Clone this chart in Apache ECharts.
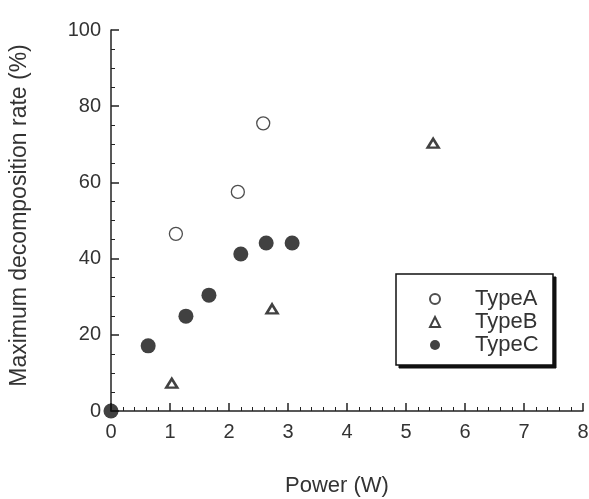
<!DOCTYPE html>
<html><head><meta charset="utf-8">
<script src="https://cdn.jsdelivr.net/npm/echarts@6/dist/echarts.min.js"></script>
<style>html,body{margin:0;padding:0;background:#fff}#c{width:589px;height:499px}</style>
</head><body><div id="c"></div>
<script>
const typeA = [[1.1, 46.5], [2.15, 57.5], [2.58, 75.5]];
const typeB = [[1.03, 7.3], [2.73, 26.8], [5.46, 70.3]];
const typeC = [[0, 0], [0.63, 17.1], [1.27, 24.9], [1.66, 30.4], [2.2, 41.2], [2.63, 44.1], [3.07, 44.1]];
const seriesNames = ['TypeA', 'TypeB', 'TypeC'];
const xTitle = 'Power (W)';
const yTitle = 'Maximum decomposition rate (%)';

const font = 'Liberation Sans, Arial, sans-serif';
const txt = '#333';
const chart = echarts.init(document.getElementById('c'), null, {renderer: 'canvas'});
chart.setOption({
  animation: false,
  backgroundColor: '#fff',
  grid: {left: 111, right: 6, top: 30, bottom: 88, outerBoundsMode: 'none', containLabel: false},
  xAxis: {
    type: 'value', min: 0, max: 8, interval: 1,
    name: xTitle, nameLocation: 'middle', nameGap: 64,
    nameTextStyle: {fontFamily: font, fontSize: 22, color: txt, padding: [0, 20, 0, 0]},
    axisLine: {lineStyle: {color: '#222', width: 1.5}},
    axisTick: {inside: true, length: 8, lineStyle: {color: '#222', width: 1.5}},
    minorTick: {show: true, splitNumber: 5, length: 4, lineStyle: {color: '#222', width: 1}},
    axisLabel: {fontFamily: font, fontSize: 20, color: txt, margin: 11},
    splitLine: {show: false}
  },
  yAxis: {
    type: 'value', min: 0, max: 100, interval: 20,
    name: yTitle, nameLocation: 'middle', nameGap: 80, nameRotate: 90,
    nameTextStyle: {fontFamily: font, fontSize: 23, color: txt, padding: [0, 0, 0, 10]},
    axisLine: {show: true, lineStyle: {color: '#222', width: 1.5}},
    axisTick: {show: true, inside: true, length: 8, lineStyle: {color: '#222', width: 1.5}},
    minorTick: {show: true, splitNumber: 4, length: 4, lineStyle: {color: '#222', width: 1}},
    axisLabel: {fontFamily: font, fontSize: 20, color: txt, margin: 10},
    splitLine: {show: false}
  },
  legend: {
    orient: 'vertical', left: 424, top: 283, z: 10,
    itemWidth: 10, itemHeight: 10, itemGap: 1,
    textStyle: {fontFamily: font, fontSize: 22, lineHeight: 22, color: txt, padding: [0, 0, 0, 30]},
    data: [
      {name: seriesNames[0], icon: 'circle'},
      {name: seriesNames[1], icon: 'triangle'},
      {name: seriesNames[2], icon: 'circle'}
    ]
  },
  graphic: {
    elements: [
      {type: 'rect', z: 3,
       shape: {x: 399, y: 277, width: 157, height: 91},
       style: {fill: '#111', stroke: '#111', lineWidth: 1}},
      {type: 'rect', z: 4,
       shape: {x: 396, y: 274, width: 157, height: 91},
       style: {fill: '#fff', stroke: '#111', lineWidth: 1.5}}
    ]
  },
  series: [
    {name: seriesNames[0], type: 'scatter', data: typeA, symbol: 'circle', symbolSize: 13, z: 5,
     itemStyle: {color: '#fff', borderColor: '#222', borderWidth: 1.3}},
    {name: seriesNames[1], type: 'scatter', data: typeB, symbol: 'triangle', symbolSize: [11, 9], z: 5,
     itemStyle: {color: '#fff', borderColor: '#111', borderWidth: 2.5}},
    {name: seriesNames[2], type: 'scatter', data: typeC, symbol: 'circle', symbolSize: 15, z: 6,
     itemStyle: {color: '#111', borderColor: '#111', borderWidth: 0}}
  ]
});
</script></body></html>
